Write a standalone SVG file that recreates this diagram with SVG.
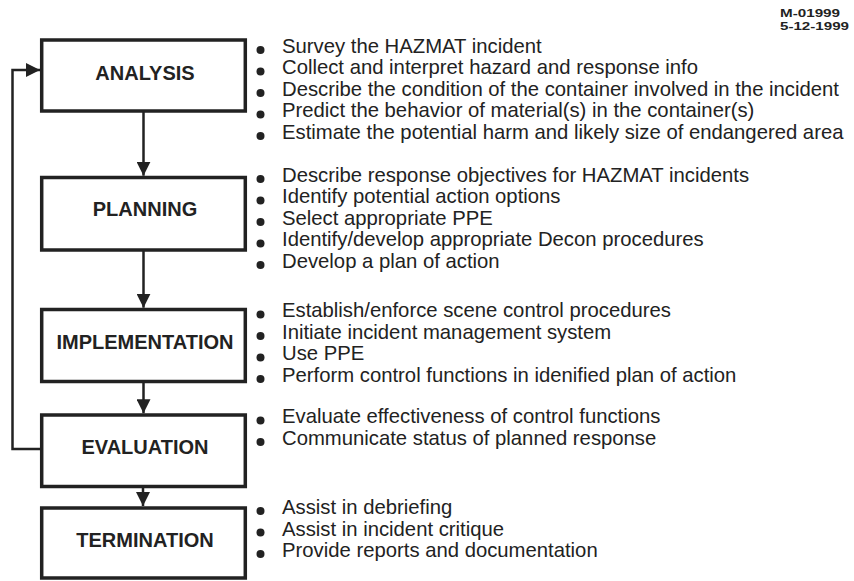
<svg xmlns="http://www.w3.org/2000/svg" width="854" height="581" viewBox="0 0 854 581">
<style>
.box{fill:#fff;stroke:#222;stroke-width:3.5}
.lbl{font-family:"Liberation Sans",Arial,sans-serif;font-weight:bold;font-size:20px;fill:#222;text-anchor:middle}
.txt{font-family:"Liberation Sans",Arial,sans-serif;font-size:20.3px;fill:#222}
.bul{fill:#222}
.con{fill:none;stroke:#222;stroke-width:2.5}
.date{font-family:"Liberation Sans",Arial,sans-serif;font-weight:bold;font-size:11.5px;fill:#222}
</style>
<defs>
<marker id="ah" markerUnits="userSpaceOnUse" markerWidth="14" markerHeight="14" refX="13" refY="6.5" orient="auto" viewBox="0 0 13 13">
<path d="M0,0 L13,6.5 L0,13 Z" fill="#222"/>
</marker>
</defs>
<rect width="854" height="581" fill="#fff"/>
<g id="date">
<text class="date" x="780" y="17" textLength="60" lengthAdjust="spacingAndGlyphs">M-01999</text>
<text class="date" x="780" y="29.5" textLength="69" lengthAdjust="spacingAndGlyphs">5-12-1999</text>
</g>
<g id="connectors">
<line class="con" x1="143.5" y1="111" x2="143.5" y2="175.7" marker-end="url(#ah)"/>
<line class="con" x1="143.5" y1="250" x2="143.5" y2="307.7" marker-end="url(#ah)"/>
<line class="con" x1="143.5" y1="381.5" x2="143.5" y2="413.3" marker-end="url(#ah)"/>
<line class="con" x1="143" y1="486.5" x2="143" y2="506" marker-end="url(#ah)"/>
<polyline class="con" points="41.7,449 12.5,449 12.5,70 40,70" marker-end="url(#ah)"/>
</g>
<g id="analysis">
<rect class="box" x="41.7" y="40" width="203.6" height="71"/>
<text class="lbl" x="145" y="80">ANALYSIS</text>
<g class="bul"><circle cx="260.5" cy="50" r="4"/><circle cx="260.5" cy="71.5" r="4"/><circle cx="260.5" cy="93" r="4"/><circle cx="260.5" cy="114.5" r="4"/><circle cx="260.5" cy="136" r="4"/></g>
<text class="txt" x="282" y="52.7">Survey the HAZMAT incident</text>
<text class="txt" x="282" y="74.2">Collect and interpret hazard and response info</text>
<text class="txt" x="282" y="95.7">Describe the condition of the container involved in the incident</text>
<text class="txt" x="282" y="117.2">Predict the behavior of material(s) in the container(s)</text>
<text class="txt" x="282" y="138.7">Estimate the potential harm and likely size of endangered area</text>
</g>
<g id="planning">
<rect class="box" x="41.7" y="177.5" width="203.6" height="72.5"/>
<text class="lbl" x="145" y="215.7">PLANNING</text>
<g class="bul"><circle cx="260.5" cy="179" r="4"/><circle cx="260.5" cy="200.5" r="4"/><circle cx="260.5" cy="222" r="4"/><circle cx="260.5" cy="243.5" r="4"/><circle cx="260.5" cy="265" r="4"/></g>
<text class="txt" x="282" y="181.7">Describe response objectives for HAZMAT incidents</text>
<text class="txt" x="282" y="203.2">Identify potential action options</text>
<text class="txt" x="282" y="224.7">Select appropriate PPE</text>
<text class="txt" x="282" y="246.2">Identify/develop appropriate Decon procedures</text>
<text class="txt" x="282" y="267.7">Develop a plan of action</text>
</g>
<g id="implementation">
<rect class="box" x="41.7" y="309.5" width="203.6" height="72"/>
<text class="lbl" x="145" y="349">IMPLEMENTATION</text>
<g class="bul"><circle cx="260.5" cy="314.5" r="4"/><circle cx="260.5" cy="336" r="4"/><circle cx="260.5" cy="357.5" r="4"/><circle cx="260.5" cy="379" r="4"/></g>
<text class="txt" x="282" y="317.3">Establish/enforce scene control procedures</text>
<text class="txt" x="282" y="338.8">Initiate incident management system</text>
<text class="txt" x="282" y="360.3">Use PPE</text>
<text class="txt" x="282" y="381.8">Perform control functions in idenified plan of action</text>
</g>
<g id="evaluation">
<rect class="box" x="41.7" y="415" width="203.6" height="71.5"/>
<text class="lbl" x="145" y="454">EVALUATION</text>
<g class="bul"><circle cx="260.5" cy="420.5" r="4"/><circle cx="260.5" cy="442" r="4"/></g>
<text class="txt" x="282" y="423.3">Evaluate effectiveness of control functions</text>
<text class="txt" x="282" y="444.8">Communicate status of planned response</text>
</g>
<g id="termination">
<rect class="box" x="41.7" y="508" width="203.6" height="70"/>
<text class="lbl" x="145" y="546.7">TERMINATION</text>
<g class="bul"><circle cx="260.5" cy="511" r="4"/><circle cx="260.5" cy="532.5" r="4"/><circle cx="260.5" cy="554" r="4"/></g>
<text class="txt" x="282" y="514">Assist in debriefing</text>
<text class="txt" x="282" y="535.5">Assist in incident critique</text>
<text class="txt" x="282" y="557">Provide reports and documentation</text>
</g>
</svg>
